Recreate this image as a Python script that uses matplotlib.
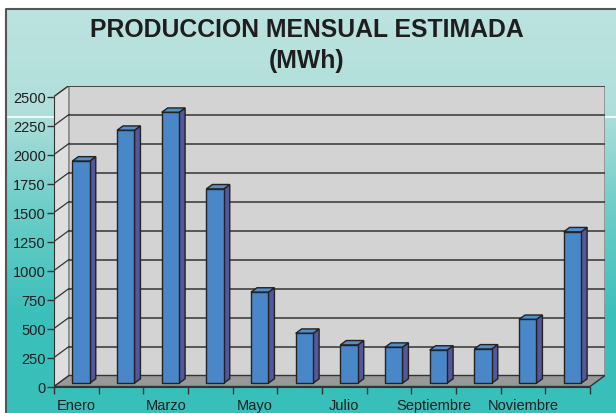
import matplotlib
matplotlib.use('Agg')
import matplotlib.pyplot as plt
from matplotlib.patches import Polygon, Rectangle
from matplotlib.colors import LinearSegmentedColormap
import numpy as np

plt.rcParams['font.family'] = ['Liberation Sans', 'DejaVu Sans']

# data
months = ['Enero', 'Febrero', 'Marzo', 'Abril', 'Mayo', 'Junio',
          'Julio', 'Agosto', 'Septiembre', 'Octubre', 'Noviembre', 'Diciembre']
produccion = [1915, 2180, 2335, 1675, 785, 430, 330, 310, 285, 295, 550, 1305]
yticks = list(range(0, 2501, 250))

W, H = 616, 414
fig = plt.figure(figsize=(W / 100, H / 100), dpi=100)

# background: white margin + teal gradient frame
bg = fig.add_axes([0, 0, 1, 1])
bg.set_xlim(0, W)
bg.set_ylim(H, 0)
bg.axis('off')
cmap = LinearSegmentedColormap.from_list('bg', ['#bce3df', '#b0dfdb', '#6ccdc8', '#3cc0bb', '#38bfba'])
grad = np.linspace(0, 1, 256).reshape(-1, 1)
bg.imshow(grad, cmap=cmap, extent=[6, W, H, 10], aspect='auto', zorder=0)
bg.plot([6, 6, W], [H, 10, 10], color='#555555', lw=1.5, zorder=2)
bg.plot([6, W], [117.5, 117.5], color='white', lw=1.2, zorder=1)

fig.text(307 / W, 1 - 30 / H, 'PRODUCCION MENSUAL ESTIMADA', ha='center', va='center',
         fontsize=17.8, fontweight='bold', color='#1e1e1e')
fig.text(307 / W, 1 - 61 / H, '(MWh)', ha='center', va='center',
         fontsize=17.8, fontweight='bold', color='#1e1e1e')

# oblique depth in data units
n = len(months)
ox = 15 / (536 / n)
oy = 11 / 0.116
top = yticks[-1]

ax = fig.add_axes([54 / W, 26.5 / H, (536 + 15) / W, (290 + 11) / H])
ax.set_xlim(0, n + ox)
ax.set_ylim(0, top + oy)
ax.patch.set_visible(False)

# walls
ax.add_patch(Polygon([(0, 0), (ox, oy), (ox, top + oy), (0, top)],
                     closed=True, fc='#dedede', ec='#8a8a8a', lw=1, zorder=1))
ax.add_patch(Rectangle((ox, oy), n, top, fc='#d3d3d3', ec='#8a8a8a', lw=1.2, zorder=1))
for v in yticks[1:]:
    ax.plot([ox, n + ox], [v + oy, v + oy], color='#333333', lw=1.1, zorder=2)
    ax.plot([0, ox], [v, v + oy], color='#333333', lw=0.9, zorder=2)
ax.add_patch(Polygon([(0, 0), (n, 0), (n + ox, oy), (ox, oy)],
                     closed=True, fc='#989898', ec='#333333', lw=1, zorder=2))

# 3d bars
f0, d, w = 0.3, 0.4, 0.39
xs = np.arange(n) + 0.31 + f0 * ox
b0 = f0 * oy
ax.bar(xs, produccion, width=w, bottom=b0, align='edge', color='#4a87c9',
       edgecolor='#222222', linewidth=1, zorder=4)
for x, v in zip(xs, produccion):
    side = [(x + w, b0), (x + w + d * ox, b0 + d * oy),
            (x + w + d * ox, b0 + v + d * oy), (x + w, b0 + v)]
    cap = [(x, b0 + v), (x + w, b0 + v), (x + w + d * ox, b0 + v + d * oy),
           (x + d * ox, b0 + v + d * oy)]
    ax.add_patch(Polygon(side, closed=True, fc='#54579c', ec='#222222', lw=1, zorder=3))
    ax.add_patch(Polygon(cap, closed=True, fc='#4f8fd0', ec='#222222', lw=1, zorder=3))

# axes
for s in ['top', 'right']:
    ax.spines[s].set_visible(False)
ax.spines['left'].set_bounds(0, top)
ax.spines['bottom'].set_bounds(0, n)
ax.spines['left'].set_color('#333333')
ax.spines['bottom'].set_color('#333333')
ax.spines['left'].set_zorder(5)
ax.spines['bottom'].set_zorder(5)
ax.set_yticks(yticks)
ax.set_yticklabels([str(v) for v in yticks], fontsize=10.5, color='#1e1e1e')
ax.tick_params(axis='y', length=5, width=1, color='#333333', pad=1)
ax.set_xticks(np.arange(n + 1), minor=True)
ax.set_xticks(np.arange(0, n, 2) + 0.5)
ax.set_xticklabels(months[::2], fontsize=10.5, color='#1e1e1e')
ax.tick_params(axis='x', which='major', length=0, pad=8)
ax.tick_params(axis='x', which='minor', length=5, width=1, color='#333333')

fig.savefig('out.png', dpi=100)
